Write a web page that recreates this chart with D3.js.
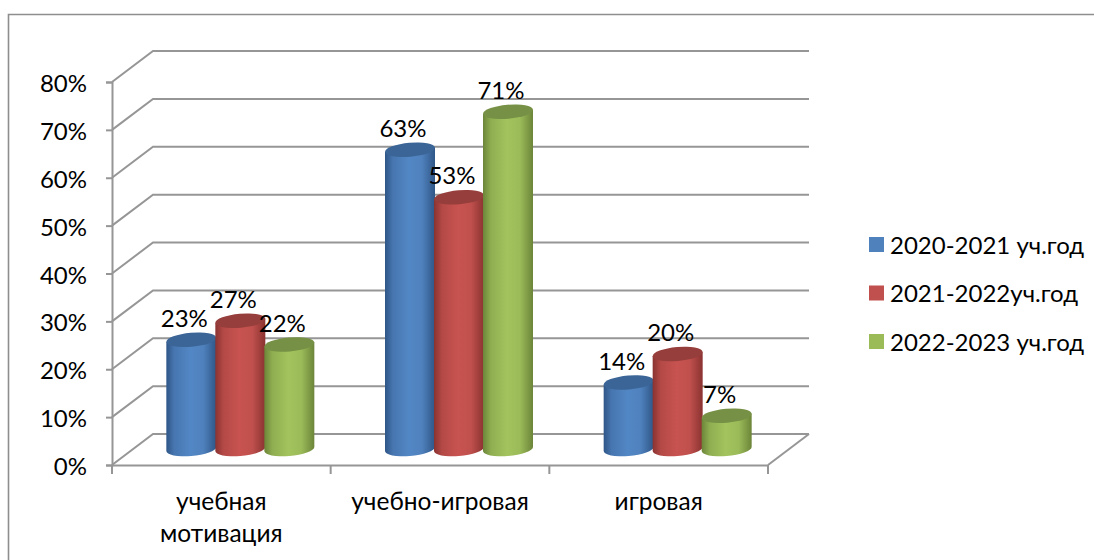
<!DOCTYPE html>
<html>
<head>
	<meta charset="utf-8">
	<title>Мотивация</title>
	<script src="https://d3js.org/d3.v7.min.js" charset="utf-8"></script>
	<style>
		html, body { margin: 0; padding: 0; background: #fff; }
		svg { display: block; }
		text { font-family: Lato, "Open Sans", "Noto Sans", sans-serif; fill: #000; }
	</style>
</head>
<body>
	<svg width="1094" height="560"></svg>
	<script>
		const categories = [["учебная", "мотивация"], ["учебно-игровая"], ["игровая"]];
		const seriesNames = ["2020-2021 уч.год", "2021-2022уч.год", "2022-2023 уч.год"];
		const values2021 = [23, 63, 14];
		const values2022 = [27, 53, 20];
		const values2023 = [22, 71, 7];
		const yTicks = [0, 10, 20, 30, 40, 50, 60, 70, 80];

		const seriesValues = [values2021, values2022, values2023];
		const colors = ["#4f81bd", "#c0504d", "#9bbb59"];
		const darkSide = ["#2f5687", "#8a3331", "#6c8539"];
		const topColor = ["#3b6596", "#963e3b", "#769145"];

		const depthX = 41, depthY = -31;
		const gridColor = "#969696";

		const svg = d3.select("svg");

		// outer frame of the chart area
		svg.append("path")
			.attr("d", "M8.5,560V14.5H1094")
			.attr("fill", "none").attr("stroke", "#8e8e8e").attr("stroke-width", 1.6);

		const yFront = d3.scaleLinear().domain([0, 80]).range([465, 82]);
		const x0 = d3.scaleBand().domain(d3.range(categories.length)).range([112, 768]);

		// walls: each gridline runs back from the axis, then along the rear wall
		const wall = svg.append("g").attr("fill", "none")
			.attr("stroke", gridColor).attr("stroke-width", 2);
		wall.selectAll("path")
			.data(yTicks)
			.join("path")
			.attr("d", d => `M${x0.range()[0]},${yFront(d)}l${depthX},${depthY}H${x0.range()[1] + depthX}`);
		wall.append("path")
			.attr("d", `M${x0.range()[1]},${yFront(0)}l${depthX},${depthY}`);

		const yAxis = svg.append("g")
			.attr("transform", `translate(${x0.range()[0]},0)`)
			.call(d3.axisLeft(yFront).tickValues(yTicks).tickFormat(d => d + "%").tickSize(6).tickPadding(19));
		const xAxis = svg.append("g")
			.attr("transform", `translate(0,${yFront(0)})`)
			.call(d3.axisBottom(x0).tickValues([]).tickSize(0));
		xAxis.selectAll(".tick-end")
			.data(d3.range(categories.length + 1))
			.join("line")
			.attr("class", "tick-end")
			.attr("x1", d => x0.range()[0] + d * x0.step())
			.attr("x2", d => x0.range()[0] + d * x0.step())
			.attr("y2", 9);
		svg.selectAll(".domain, .tick line, .tick-end")
			.attr("stroke", gridColor).attr("stroke-width", 2);
		yAxis.selectAll("text").attr("font-size", 24).attr("font-family", null)
			.attr("dy", "0.4em");

		// category labels
		const catLabels = svg.append("g").attr("text-anchor", "middle").attr("font-size", 24.5);
		categories.forEach((lines, i) => {
			const t = catLabels.append("text")
				.attr("x", x0(i) + x0.bandwidth() / 2)
				.attr("y", 510);
			lines.forEach((line, j) => {
				t.append("tspan")
					.attr("x", x0(i) + x0.bandwidth() / 2)
					.attr("dy", j ? 32 : 0)
					.text(line);
			});
		});

		// cylinders sit on the floor, shifted back from the front axis
		const y = d3.scaleLinear().domain([0, 80]).range([449, 69]);
		const xCenter = d3.scaleBand().domain(d3.range(categories.length)).range([131, 787]);
		const xSub = d3.scaleBand().domain(d3.range(seriesNames.length)).range([-73.5, 73.5]);

		const defs = svg.append("defs");
		colors.forEach((c, i) => {
			const g = defs.append("linearGradient").attr("id", "cyl" + i);
			g.append("stop").attr("offset", "0%").attr("stop-color", darkSide[i]);
			g.append("stop").attr("offset", "16%").attr("stop-color", d3.interpolateRgb(darkSide[i], c)(0.75));
			g.append("stop").attr("offset", "48%").attr("stop-color", d3.color(c).brighter(0.12));
			g.append("stop").attr("offset", "74%").attr("stop-color", c);
			g.append("stop").attr("offset", "100%").attr("stop-color", darkSide[i]);
		});

		const rx = xSub.bandwidth() / 2 + 0.5, ry = 7, tilt = 2;
		const bars = [];
		categories.forEach((_, c) => seriesNames.forEach((_, s) => {
			bars.push({ c, s, v: seriesValues[s][c] });
		}));
		const barX = d => xCenter(d.c) + xCenter.bandwidth() / 2 + xSub(d.s) + xSub.bandwidth() / 2;

		const barG = svg.append("g").selectAll("g").data(bars).join("g")
			.attr("transform", d => `translate(${barX(d)},0)`);

		barG.append("path")
			.attr("fill", d => `url(#cyl${d.s})`)
			.attr("d", d => `M${-rx},${y(d.v) + tilt}V${y(0) + tilt}A${rx},${ry} -5 0 0 ${rx},${y(0) - tilt}V${y(d.v) - tilt}Z`);
		barG.append("ellipse")
			.attr("fill", d => topColor[d.s])
			.attr("rx", rx).attr("ry", ry)
			.attr("transform", d => `translate(0,${y(d.v)}) rotate(-5)`);

		// data labels above each cylinder
		svg.append("g").attr("text-anchor", "middle").attr("font-size", 24)
			.selectAll("text").data(bars).join("text")
			.attr("x", d => barX(d) - 7)
			.attr("y", d => y(d.v) - 13)
			.text(d => d.v + "%");

		// legend
		const legendY = d3.scalePoint().domain(seriesNames).range([244.5, 341.5]);
		const legend = svg.append("g").selectAll("g").data(seriesNames).join("g")
			.attr("transform", d => `translate(0,${legendY(d)})`);
		legend.append("rect")
			.attr("x", 869).attr("y", -7.5).attr("width", 15).attr("height", 15)
			.attr("fill", (d, i) => colors[i]);
		legend.append("text")
			.attr("x", 890).attr("y", 9).attr("font-size", 24)
			.text(d => d);
	</script>
</body>
</html>
